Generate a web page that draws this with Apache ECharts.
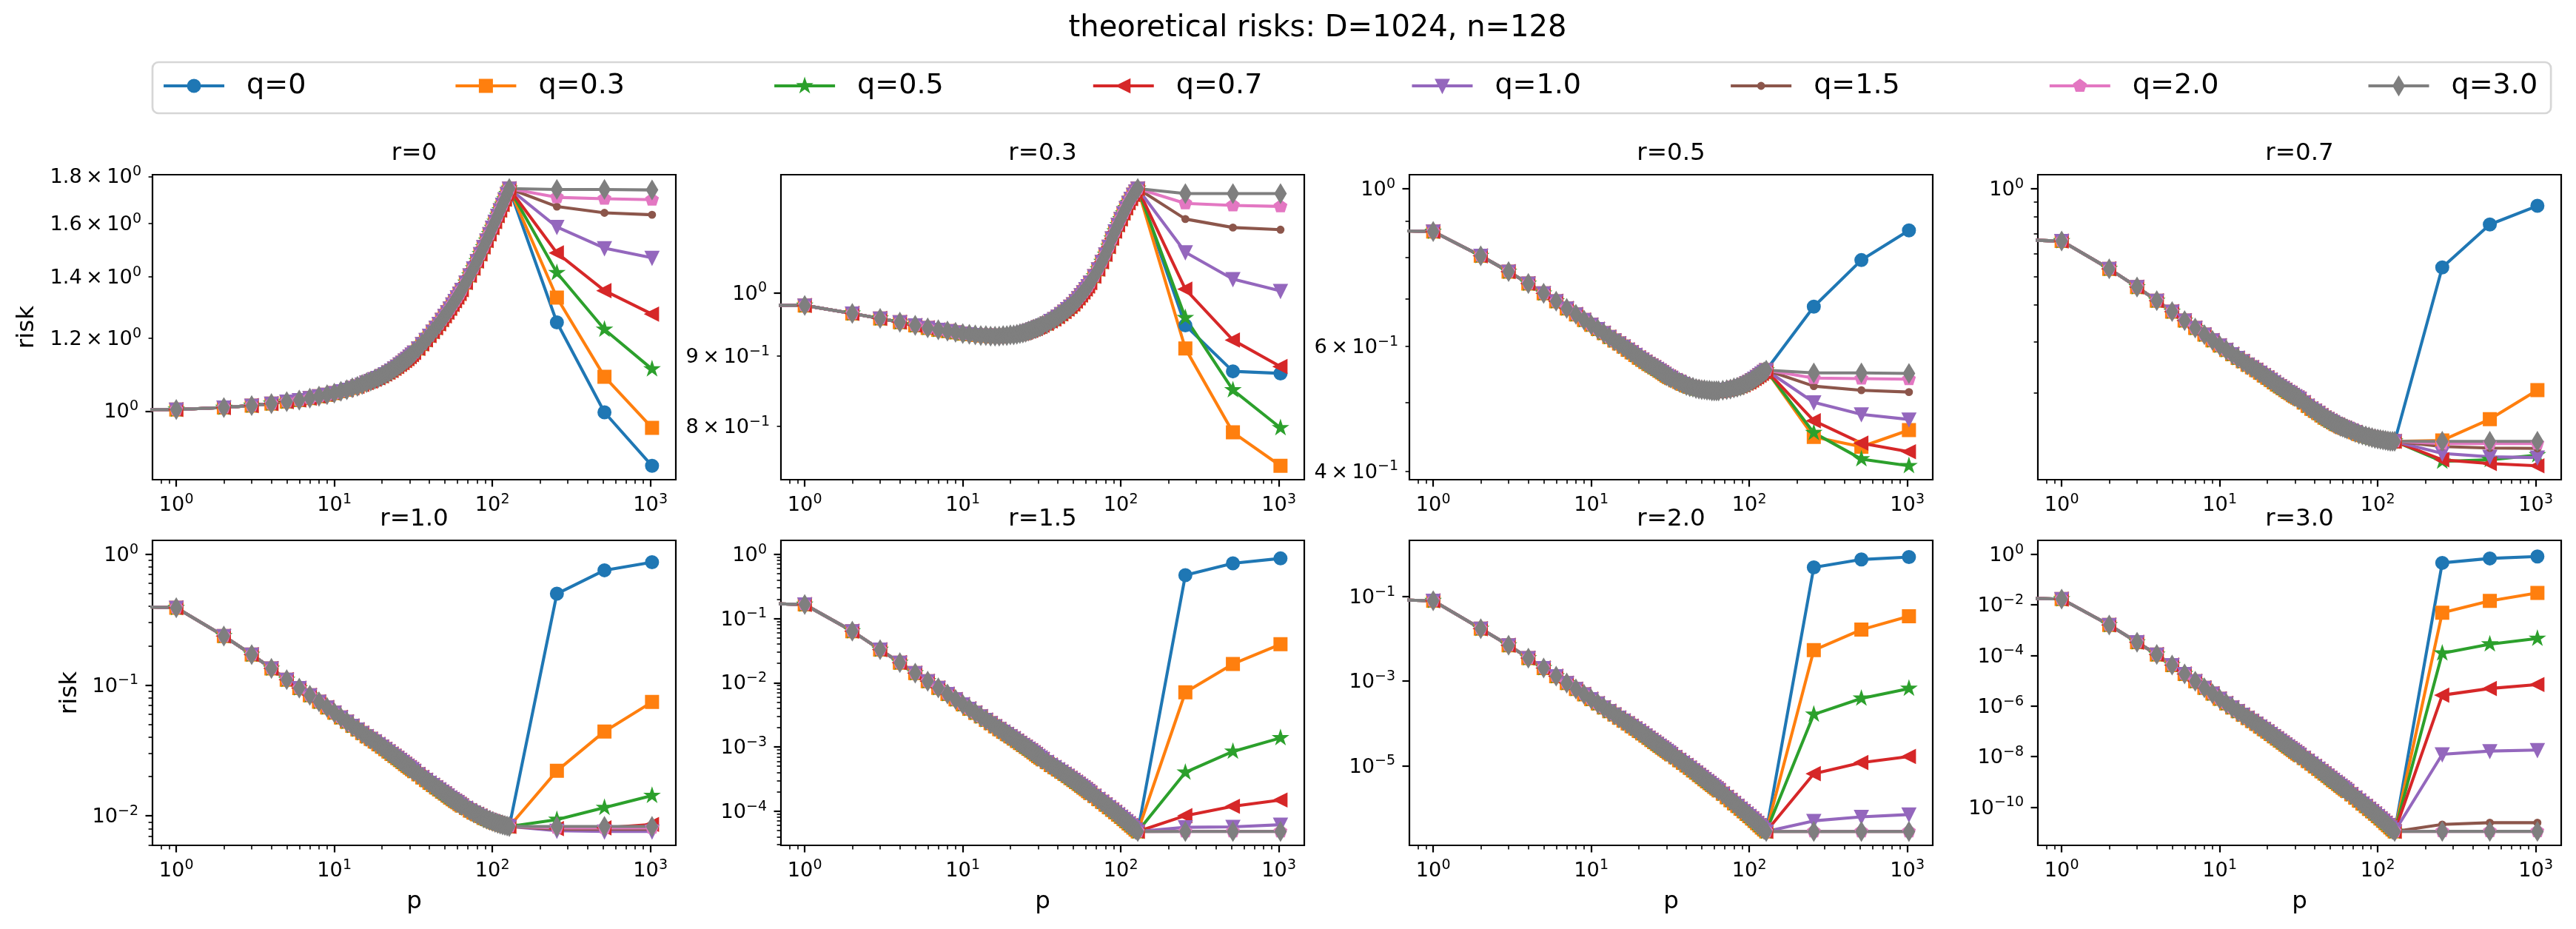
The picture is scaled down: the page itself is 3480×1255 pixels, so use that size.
<!DOCTYPE html>
<html><head><meta charset="utf-8">
<script src="https://cdn.jsdelivr.net/npm/echarts@6/dist/echarts.min.js"></script>
<style>html,body{margin:0;padding:0;background:#fff}#c{width:3480px;height:1255px}</style>
</head><body><div id="c"></div>
<script>
// ---------------- data ----------------
const Q_NAMES = ['q=0','q=0.3','q=0.5','q=0.7','q=1.0','q=1.5','q=2.0','q=3.0'];
const R_TITLES = ['r=0','r=0.3','r=0.5','r=0.7','r=1.0','r=1.5','r=2.0','r=3.0'];
const SUPTITLE = 'theoretical risks: D=1024, n=128';
// p = 0 point of every curve: a log axis cannot show it, it sits far to the left (clipped)
const P_ZERO = 1e-12;
const RISK_AT_P_ZERO = 1.0;
const P_UNDER = [1,2,3,4,5,6,7,8,9,10,11,12,13,14,15,16,17,18,19,20,21,22,23,24,25,26,27,28,29,30,31,32,
  34,36,38,40,42,44,46,48,50,52,54,56,58,60,62,64,
  68,72,76,80,84,88,92,96,100,104,108,112,116,120,124,128];
const P_OVER = [256,512,1024];

// under-parameterised part (p <= n), shared by every q
const UNDER_R0 = [1.004,1.009,1.014,1.019,1.024,1.028,1.033,1.038,1.042,1.046,1.051,1.055,1.060,1.064,1.069,1.074,
  1.078,1.083,1.087,1.092,1.097,1.102,1.107,1.113,1.118,1.124,1.129,1.135,1.140,1.146,1.152,1.158,
  1.170,1.183,1.195,1.208,1.220,1.232,1.244,1.257,1.269,1.281,1.293,1.306,1.318,1.330,1.342,1.355,
  1.380,1.405,1.430,1.456,1.482,1.508,1.533,1.558,1.583,1.607,1.631,1.654,1.677,1.700,1.723,1.746];
const UNDER_R03 = [0.979,0.966,0.958,0.952,0.947,0.943,0.940,0.938,0.936,0.934,0.933,0.932,0.931,0.931,0.930,0.930,
  0.930,0.931,0.931,0.932,0.932,0.933,0.934,0.935,0.936,0.938,0.939,0.941,0.942,0.944,0.945,0.947,
  0.950,0.954,0.957,0.961,0.965,0.969,0.973,0.977,0.981,0.986,0.991,0.996,1.001,1.006,1.011,1.017,
  1.028,1.040,1.053,1.066,1.080,1.095,1.108,1.120,1.131,1.142,1.152,1.162,1.170,1.178,1.184,1.190];
const UNDER_R05 = [0.870,0.804,0.764,0.735,0.712,0.694,0.678,0.665,0.653,0.643,0.634,0.626,0.618,0.611,0.605,0.599,
  0.593,0.588,0.583,0.578,0.574,0.570,0.566,0.563,0.560,0.557,0.554,0.551,0.548,0.545,0.543,0.541,
  0.537,0.534,0.531,0.528,0.526,0.525,0.523,0.522,0.521,0.521,0.520,0.520,0.519,0.519,0.519,0.519,
  0.520,0.521,0.522,0.524,0.525,0.527,0.529,0.532,0.534,0.537,0.540,0.543,0.546,0.549,0.552,0.555];
const UNDER_R07 = [0.662,0.532,0.461,0.414,0.380,0.354,0.334,0.317,0.303,0.291,0.281,0.272,0.264,0.257,0.250,0.245,
  0.240,0.235,0.230,0.226,0.222,0.218,0.214,0.211,0.208,0.205,0.202,0.200,0.197,0.195,0.193,0.191,
  0.186,0.181,0.177,0.174,0.171,0.168,0.165,0.163,0.161,0.159,0.157,0.156,0.154,0.153,0.152,0.151,
  0.149,0.147,0.145,0.144,0.143,0.142,0.141,0.140,0.1395,0.139,0.1385,0.138,0.1375,0.137,0.137,0.137];
const UNDER_R10 = [0.390,0.237,0.171,0.134,0.110,0.0948,0.0835,0.0745,0.0675,0.0615,0.0566,0.0524,0.0488,0.0457,0.0430,0.0405,
  0.0387,0.0370,0.0353,0.0338,0.0324,0.0310,0.0298,0.0287,0.0277,0.0267,0.0258,0.0249,0.0241,0.0234,0.0227,0.0220,
  0.0208,0.0197,0.0188,0.0179,0.0172,0.0165,0.0159,0.0153,0.0148,0.0143,0.0138,0.0134,0.0130,0.0127,0.0123,0.0120,
  0.0115,0.0110,0.0106,0.0103,0.0100,0.00965,0.00945,0.00925,0.00907,0.00890,0.00877,0.00865,0.00855,0.00845,0.00837,0.0083];
const UNDER_R15 = [0.165,0.0634,0.0327,0.0205,0.0141,0.01055,0.0083,0.00666,0.0055,0.00459,0.00393,0.0034,0.00298,0.00263,0.00234,0.00209,
  0.00189,0.00172,0.00158,0.00146,0.00135,0.00124,0.00115,0.00107,0.00100,0.000935,0.000877,0.000822,0.000769,0.00072,0.00068,0.000642,
  0.000579,0.000523,0.000482,0.000445,0.000411,0.000379,0.000352,0.000327,0.000305,0.000284,0.000265,0.000248,0.000233,0.000219,0.000205,0.000192,
  0.000172,0.000154,0.000139,0.000126,0.000115,0.000105,0.0000963,0.0000884,0.0000815,0.0000752,0.0000695,0.0000643,0.0000597,0.0000555,0.0000517,0.0000482];
const UNDER_R20 = [0.0796,0.0174,0.00707,0.00351,0.00205,0.001315,0.000903,0.000654,0.00049,0.000377,0.000297,0.000239,0.000196,0.000163,0.000137,0.0001165,
  1.0e-4,8.66e-5,7.58e-5,6.66e-5,5.85e-5,5.15e-5,4.58e-5,4.07e-5,3.65e-5,3.28e-5,2.96e-5,2.68e-5,2.44e-5,2.23e-5,2.04e-5,1.87e-5,
  1.59e-5,1.36e-5,1.18e-5,1.026e-5,8.93e-6,7.78e-6,6.86e-6,6.05e-6,5.39e-6,4.80e-6,4.31e-6,3.87e-6,3.50e-6,3.17e-6,2.89e-6,2.63e-6,
  2.18e-6,1.815e-6,1.54e-6,1.30e-6,1.12e-6,9.65e-7,8.41e-7,7.33e-7,6.44e-7,5.65e-7,4.99e-7,4.40e-7,3.91e-7,3.48e-7,3.12e-7,2.80e-7];
const UNDER_R30 = [0.0169,1.60e-3,3.34e-4,1.09e-4,4.17e-5,1.86e-5,9.55e-6,5.25e-6,3.09e-6,1.92e-6,1.276e-6,8.77e-7,6.22e-7,4.53e-7,3.37e-7,2.55e-7,
  1.98e-7,1.535e-7,1.22e-7,9.77e-8,7.87e-8,6.34e-8,5.2e-8,4.27e-8,3.56e-8,2.96e-8,2.5e-8,2.11e-8,1.81e-8,1.545e-8,1.33e-8,1.15e-8,
  8.8e-9,6.73e-9,5.3e-9,4.17e-9,3.32e-9,2.64e-9,2.14e-9,1.74e-9,1.43e-9,1.18e-9,9.9e-10,8.30e-10,7.03e-10,5.96e-10,5.1e-10,4.37e-10,
  3.23e-10,2.39e-10,1.83e-10,1.40e-10,1.10e-10,8.61e-11,6.9e-11,5.52e-11,4.45e-11,3.59e-11,2.91e-11,2.36e-11,1.94e-11,1.59e-11,1.32e-11,1.10e-11];

// over-parameterised part (p = 256, 512, 1024), one row per q
const OVER_R0  = [[1.249,0.997,0.872],[1.329,1.090,0.959],[1.414,1.227,1.111],[1.486,1.352,1.275],[1.586,1.504,1.468],[1.669,1.643,1.635],[1.708,1.702,1.698],[1.742,1.742,1.740]];
const OVER_R03 = [[0.947,0.877,0.874],[0.911,0.792,0.749],[0.959,0.850,0.798],[1.006,0.924,0.884],[1.070,1.023,1.003],[1.131,1.115,1.111],[1.161,1.157,1.155],[1.180,1.180,1.180]];
const OVER_R05 = [[0.682,0.793,0.873],[0.447,0.433,0.457],[0.453,0.416,0.407],[0.471,0.438,0.426],[0.500,0.481,0.473],[0.527,0.520,0.517],[0.541,0.540,0.539],[0.550,0.550,0.549]];
const OVER_R07 = [[0.538,0.754,0.873],[0.138,0.163,0.205],[0.117,0.1185,0.123],[0.1185,0.115,0.113],[0.1246,0.1213,0.1206],[0.1315,0.130,0.1296],[0.1346,0.1346,0.1346],[0.137,0.137,0.137]];
const OVER_R10 = [[0.499,0.754,0.869],[0.0221,0.0442,0.0742],[0.00937,0.01156,0.01429],[0.0080,0.0081,0.0086],[0.0077,0.0076,0.0076],[0.0079,0.0079,0.0079],[0.0081,0.0081,0.0081],[0.0083,0.0083,0.0083]];
const OVER_R15 = [[0.472,0.721,0.861],[0.00708,0.0196,0.0397],[0.000401,0.000849,0.00138],[8.5e-5,1.19e-4,1.49e-4],[5.6e-5,5.7e-5,6.15e-5],[4.85e-5,4.85e-5,4.85e-5],[4.83e-5,4.83e-5,4.83e-5],[4.82e-5,4.82e-5,4.82e-5]];
const OVER_R20 = [[0.489,0.751,0.861],[0.0054,0.0165,0.0341],[1.64e-4,3.92e-4,6.7e-4],[6.5e-6,1.19e-5,1.66e-5],[5.0e-7,6.2e-7,7.05e-7],[2.82e-7,2.82e-7,2.82e-7],[2.81e-7,2.81e-7,2.81e-7],[2.80e-7,2.80e-7,2.80e-7]];
const OVER_R30 = [[0.456,0.683,0.817],[0.0049,0.0144,0.0296],[1.22e-4,2.79e-4,4.68e-4],[2.69e-6,4.93e-6,7.06e-6],[1.24e-8,1.66e-8,1.82e-8],[2.08e-11,2.45e-11,2.45e-11],[1.11e-11,1.11e-11,1.11e-11],[1.11e-11,1.11e-11,1.11e-11]];

const UNDER = [UNDER_R0, UNDER_R03, UNDER_R05, UNDER_R07, UNDER_R10, UNDER_R15, UNDER_R20, UNDER_R30];
const OVER  = [OVER_R0, OVER_R03, OVER_R05, OVER_R07, OVER_R10, OVER_R15, OVER_R20, OVER_R30];

// y tick rules per panel (matplotlib log locator behaviour)
const Y_MAJOR_STEP = [1,1,1,1,1,1,2,2];
const Y_MINOR_KIND = ['linear','sub','sub','sub','sub','sub','none','none'];
const Y_MINOR_LINEAR_R0 = [1.2,1.4,1.6,1.8];
const Y_MINOR_LABELS = [[1.2,1.4,1.6,1.8],[0.8,0.9],[0.4,0.6],[],[],[],[],[]];

// ---------------- style ----------------
const COLORS = ['#1f77b4','#ff7f0e','#2ca02c','#d62728','#9467bd','#8c564b','#e377c2','#7f7f7f'];
const BOX = 'M-0.71,-0.71M0.71,0.71';
const MARKERS = [
  BOX+'M0.5,0A0.5,0.5,0,1,1,-0.5,0A0.5,0.5,0,1,1,0.5,0Z',
  BOX+'M-0.5,-0.5L0.5,-0.5L0.5,0.5L-0.5,0.5Z',
  BOX+'M0,-0.5L0.1123,-0.1545L0.4755,-0.1545L0.1816,0.059L0.2939,0.4045L0,0.191L-0.2939,0.4045L-0.1816,0.059L-0.4755,-0.1545L-0.1123,-0.1545Z',
  BOX+'M-0.5,0L0.5,-0.5L0.5,0.5Z',
  BOX+'M-0.5,-0.5L0.5,-0.5L0,0.5Z',
  BOX+'M0.25,0A0.25,0.25,0,1,1,-0.25,0A0.25,0.25,0,1,1,0.25,0Z',
  BOX+'M0,-0.5L0.4755,-0.1545L0.2939,0.4045L-0.2939,0.4045L-0.4755,-0.1545Z',
  BOX+'M0,-0.7071L0.4243,0L0,0.7071L-0.4243,0Z'
].map(s => 'path://' + s);
const SYMBOL_SIZE = 23.15;
const FONT = 'DejaVu Sans';
const GRID_LEFTS = [206,1055,1904,2753], GRID_TOPS = [236,730], GRID_W = 707, GRID_H = 412;
const TICK_FS = 27.2, SUP_FS = 19;
const RICH = {
  b: {fontSize: TICK_FS, fontFamily: FONT, color: '#000', lineHeight: 31, verticalAlign: 'bottom'},
  s: {fontSize: SUP_FS, fontFamily: FONT, color: '#000', lineHeight: 16, verticalAlign: 'top'}
};

// ---------------- helpers ----------------
function logRange(vals) {
  let lo = Infinity, hi = -Infinity;
  vals.forEach(v => { if (v > 0) { const l = Math.log10(v); if (l < lo) lo = l; if (l > hi) hi = l; } });
  const m = (hi - lo) * 0.05;
  return [lo - m, hi + m];
}
function supText(m) { return (m < 0 ? '\u2212' : '') + Math.abs(m); }
function decadeLabel(m) { return '{b|10}{s|' + supText(m) + '}'; }
function mantLabel(v) {
  const m = Math.floor(Math.log10(v) + 1e-9);
  const a = v / Math.pow(10, m);
  const as = Math.abs(a - Math.round(a)) < 1e-6 ? String(Math.round(a)) : a.toFixed(1);
  return '{b|' + as + '\u2009\u00d7\u200910}{s|' + supText(m) + '}';
}
function inRange(l, r) { return l >= r[0] - 1e-9 && l <= r[1] + 1e-9; }
function majorDecades(r, step) {
  const out = [];
  for (let m = Math.floor(r[0]) - step; m <= Math.ceil(r[1]) + step; m += step) if (inRange(m, r)) out.push(m);
  return out;
}
function subTicks(r) {
  const out = [];
  for (let m = Math.floor(r[0]) - 1; m <= Math.ceil(r[1]); m++)
    for (let k = 2; k <= 9; k++) { const l = Math.log10(k) + m; if (inRange(l, r)) out.push(l); }
  return out;
}
function makeFormatter(pairs) {
  return function (val) {
    let best = '', bd = Infinity;
    pairs.forEach(p => { const d = Math.abs(p[0] - val); if (d < bd) { bd = d; best = p[1]; } });
    return bd < 1e-6 ? best : '';
  };
}

// ---------------- build option ----------------
const xR = logRange(P_UNDER.concat(P_OVER));
const xMajor = majorDecades(xR, 1);
const xMinor = subTicks(xR);
const xFmt = makeFormatter(xMajor.map(m => [m, decadeLabel(m)]));

const grids = [], xAxes = [], yAxes = [], series = [], graphics = [];
for (let g = 0; g < 8; g++) {
  const row = Math.floor(g / 4), col = g % 4;
  const left = GRID_LEFTS[col], top = GRID_TOPS[row];
  grids.push({left: left, top: top, width: GRID_W, height: GRID_H, show: true,
    borderColor: '#000', borderWidth: 2.2, backgroundColor: 'rgba(0,0,0,0)', containLabel: false, outerBoundsMode: 'none'});

  // y range like matplotlib autoscale on log axis (5% margins)
  const allY = [RISK_AT_P_ZERO].concat(UNDER[g]);
  OVER[g].forEach(a => a.forEach(v => allY.push(v)));
  const yR = logRange(allY);
  const yMaj = majorDecades(yR, Y_MAJOR_STEP[g]);
  let yMin = [];
  if (Y_MINOR_KIND[g] === 'sub') yMin = subTicks(yR);
  else if (Y_MINOR_KIND[g] === 'linear') yMin = Y_MINOR_LINEAR_R0.map(v => Math.log10(v)).filter(l => inRange(l, yR));
  const yMinLab = Y_MINOR_LABELS[g].map(v => Math.log10(v)).filter(l => inRange(l, yR));
  const yMajFmt = makeFormatter(yMaj.map(m => [m, decadeLabel(m)]));
  const yMinFmt = makeFormatter(Y_MINOR_LABELS[g].map(v => [Math.log10(v), mantLabel(v)]));

  const base = g * 3;
  xAxes.push(
    {gridIndex: g, type: 'log', logBase: 10, min: Math.pow(10, xR[0]), max: Math.pow(10, xR[1]), show: false, splitLine: {show: false}},
    {gridIndex: g, type: 'value', position: 'bottom', min: xR[0], max: xR[1], splitLine: {show: false},
      axisLine: {show: false, onZero: false},
      axisTick: {show: true, customValues: xMajor, length: 9.5, lineStyle: {color: '#000', width: 2.2}},
      axisLabel: {show: true, customValues: xMajor, margin: 17.5, formatter: xFmt, rich: RICH, color: '#000', fontFamily: FONT, fontSize: TICK_FS}},
    {gridIndex: g, type: 'value', position: 'bottom', min: xR[0], max: xR[1], splitLine: {show: false},
      axisLine: {show: false, onZero: false},
      axisTick: {show: true, customValues: xMinor, length: 5.4, lineStyle: {color: '#000', width: 1.6}},
      axisLabel: {show: false}}
  );
  yAxes.push(
    {gridIndex: g, type: 'log', logBase: 10, min: Math.pow(10, yR[0]), max: Math.pow(10, yR[1]), show: false, splitLine: {show: false}},
    {gridIndex: g, type: 'value', position: 'left', min: yR[0], max: yR[1], splitLine: {show: false},
      axisLine: {show: false, onZero: false},
      axisTick: {show: true, customValues: yMaj, length: 9.5, lineStyle: {color: '#000', width: 2.2}},
      axisLabel: {show: true, customValues: yMaj, margin: 19, formatter: yMajFmt, rich: RICH, color: '#000', fontFamily: FONT, fontSize: TICK_FS}},
    {gridIndex: g, type: 'value', position: 'left', min: yR[0], max: yR[1], splitLine: {show: false},
      axisLine: {show: false, onZero: false},
      axisTick: {show: yMin.length > 0, customValues: yMin.length ? yMin : [yR[0] - 10], length: 5.4, lineStyle: {color: '#000', width: 1.6}},
      axisLabel: {show: yMinLab.length > 0, customValues: yMinLab.length ? yMinLab : [yR[0] - 10], margin: 15, formatter: yMinFmt, rich: RICH, color: '#000', fontFamily: FONT, fontSize: TICK_FS}}
  );

  for (let qi = 0; qi < 8; qi++) {
    const data = [{value: [P_ZERO, RISK_AT_P_ZERO], symbol: 'none'}];
    P_UNDER.forEach((p, i) => data.push([p, UNDER[g][i]]));
    P_OVER.forEach((p, i) => data.push([p, OVER[g][qi][i]]));
    series.push({
      type: 'line', name: Q_NAMES[qi], xAxisIndex: base, yAxisIndex: base, data: data,
      symbol: MARKERS[qi], symbolSize: SYMBOL_SIZE, symbolKeepAspect: true, showSymbol: true,
      itemStyle: {color: COLORS[qi], borderColor: COLORS[qi], borderWidth: 2.7},
      lineStyle: {color: COLORS[qi], width: 4.1},
      clip: true, silent: true, animation: false, emphasis: {disabled: true}
    });
  }

  const cx = left + GRID_W / 2;
  graphics.push({type: 'text', x: cx, y: top - 28, silent: true,
    style: {text: R_TITLES[g], fontSize: 32.6, fontFamily: FONT, fill: '#000', align: 'center', verticalAlign: 'middle'}});
  if (row === 1) graphics.push({type: 'text', x: cx, y: 1219, silent: true,
    style: {text: 'p', fontSize: 32.6, fontFamily: FONT, fill: '#000', align: 'center', verticalAlign: 'middle'}});
}
graphics.push({type: 'text', x: 37, y: GRID_TOPS[0] + GRID_H / 2, rotation: Math.PI / 2, silent: true,
  style: {text: 'risk', fontSize: 32.6, fontFamily: FONT, fill: '#000', align: 'center', verticalAlign: 'middle'}});
graphics.push({type: 'text', x: 95, y: GRID_TOPS[1] + GRID_H / 2, rotation: Math.PI / 2, silent: true,
  style: {text: 'risk', fontSize: 32.6, fontFamily: FONT, fill: '#000', align: 'center', verticalAlign: 'middle'}});
graphics.push({type: 'text', x: 1780, y: 39, silent: true,
  style: {text: SUPTITLE, fontSize: 40, fontFamily: FONT, fill: '#000', align: 'center', verticalAlign: 'middle'}});

const option = {
  animation: false,
  backgroundColor: '#fff',
  textStyle: {fontFamily: FONT},
  legend: {
    data: Q_NAMES, left: 206, top: 84, width: 3400, orient: 'horizontal', selectedMode: false,
    itemGap: 200, itemWidth: 82, itemHeight: SYMBOL_SIZE / 0.8,
    lineStyle: {width: 4.1},
    itemStyle: {borderWidth: 2.7},
    padding: [13, 18, 18, 13], backgroundColor: '#fff', borderColor: '#d6d6d6', borderWidth: 2.7, borderRadius: 8,
    textStyle: {fontSize: 38.1, fontFamily: FONT, color: '#000', padding: [0, 0, 0, 25]}
  },
  grid: grids, xAxis: xAxes, yAxis: yAxes, series: series, graphic: graphics
};
const chart = echarts.init(document.getElementById('c'), null, {renderer: 'canvas', width: 3480, height: 1255});
chart.setOption(option);
</script></body></html>
